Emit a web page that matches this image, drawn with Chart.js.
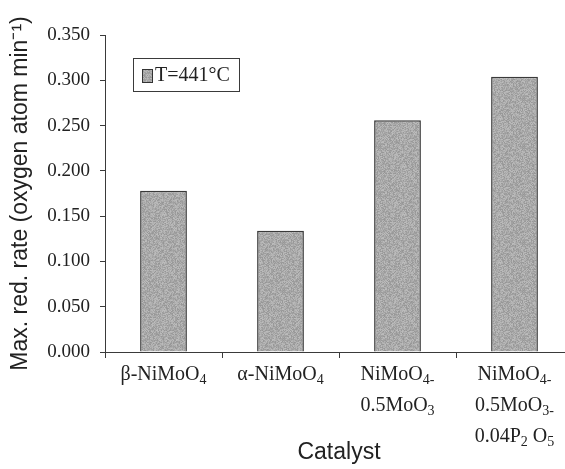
<!DOCTYPE html>
<html lang="en">
<head>
  <meta charset="UTF-8" />
  <title>Max. red. rate vs catalyst</title>
  <script src="https://cdn.jsdelivr.net/npm/chart.js"></script>
  <style>
    html, body {
      margin: 0;
      padding: 0;
      background: #fff;
      overflow: hidden;
    }
    #wrap {
      width: 575px;
      height: 469px;
    }
  </style>
</head>
<body>
  <div id="wrap"><canvas id="chart" width="575" height="469"></canvas></div>

  <script>
    // data
    const catalysts = [
      'β-NiMoO₄',
      'α-NiMoO₄',
      ['NiMoO₄₋', '0.5MoO₃'],
      ['NiMoO₄₋', '0.5MoO₃₋', '0.04P₂ O₅']
    ];
    const maxRedRate = [0.178, 0.134, 0.256, 0.304];
    const seriesLabel = 'T=441°C';
    const yTicks = [0, 0.05, 0.1, 0.15, 0.2, 0.25, 0.3, 0.35];

    const serif = "'Liberation Serif', 'Times New Roman', serif";
    const sans = "'Liberation Sans', Arial, sans-serif";
    const axisColor = '#3a3a3a';
    const textColor = '#222';

    // stippled grey fill, like the printed bars
    function stipple() {
      const c = document.createElement('canvas');
      c.width = 48; c.height = 48;
      const g = c.getContext('2d');
      const img = g.createImageData(48, 48);
      for (let i = 0; i < 48 * 48; i++) {
        let h = (i * 2654435761) >>> 0;
        h = ((h ^ (h >>> 15)) * 2246822519) >>> 0;
        const v = 170 + ((h >>> 8) % 40) - 20;
        img.data[i*4] = v; img.data[i*4+1] = v; img.data[i*4+2] = v; img.data[i*4+3] = 255;
      }
      g.putImageData(img, 0, 0);
      return g.createPattern(c, 'repeat');
    }
    const barFill = stipple();

    // text with chemical subscripts drawn smaller and lower
    const subs = { '₀':'0','₁':'1','₂':'2','₃':'3','₄':'4','₅':'5','₆':'6','₇':'7','₈':'8','₉':'9','₋':'-' };
    function drawRich(ctx, text, cx, base, size) {
      const parts = [];
      for (const ch of text) {
        const sub = ch in subs;
        const last = parts[parts.length - 1];
        if (last && last.sub === sub) last.t += sub ? subs[ch] : ch;
        else parts.push({ sub, t: sub ? subs[ch] : ch });
      }
      let w = 0;
      parts.forEach(p => {
        ctx.font = (p.sub ? Math.round(size * 0.72) : size) + 'px ' + serif;
        p.w = ctx.measureText(p.t).width;
        w += p.w;
      });
      let x = cx - w / 2;
      parts.forEach(p => {
        ctx.font = (p.sub ? Math.round(size * 0.72) : size) + 'px ' + serif;
        ctx.fillText(p.t, x, p.sub ? base + size * 0.22 : base);
        x += p.w;
      });
    }

    const extras = {
      id: 'extras',
      afterDraw(chart) {
        const ctx = chart.ctx;
        const ds = chart.data.datasets[0];
        const xs = chart.scales.x;
        ctx.save();
        ctx.fillStyle = textColor;
        ctx.textAlign = 'left';
        ctx.textBaseline = 'alphabetic';
        chart.data.labels.forEach((lab, i) => {
          const lines = Array.isArray(lab) ? lab : [lab];
          const cx = xs.getPixelForTick(i);
          lines.forEach((ln, j) => drawRich(ctx, ln, cx, 380 + j * 31, 20));
        });

        // legend box
        ctx.strokeStyle = axisColor;
        ctx.lineWidth = 1;
        ctx.strokeRect(133.5, 58.5, 106, 33);
        ctx.fillStyle = ds.backgroundColor;
        ctx.fillRect(142, 69, 11, 14);
        ctx.strokeStyle = '#333';
        ctx.strokeRect(142.5, 69.5, 10, 13);
        ctx.fillStyle = textColor;
        ctx.font = '20px ' + serif;
        ctx.textBaseline = 'middle';
        ctx.fillText(ds.label, 155, 76);
        ctx.restore();
      }
    };

    new Chart(document.getElementById('chart'), {
      type: 'bar',
      data: {
        labels: catalysts,
        datasets: [{
          label: seriesLabel,
          data: maxRedRate,
          backgroundColor: barFill,
          borderColor: '#3a3a3a',
          borderWidth: 1.5,
          categoryPercentage: 1,
          barPercentage: 0.4
        }]
      },
      options: {
        responsive: false,
        animation: false,
        layout: { padding: { top: 35, right: 2, left: 0, bottom: 0 } },
        plugins: {
          legend: { display: false },
          tooltip: { enabled: false }
        },
        scales: {
          x: {
            afterFit(s) { s.height = 117; },
            grid: { offset: true, drawOnChartArea: false, tickLength: 6, color: axisColor },
            border: { color: axisColor, width: 1 },
            ticks: { display: false },
            title: {
              display: true,
              text: 'Catalyst',
              color: textColor,
              padding: { top: 0, bottom: 3 },
              font: { family: sans, size: 23 }
            }
          },
          y: {
            min: 0,
            max: 0.35,
            afterFit(s) { s.width = 105; },
            afterBuildTicks(s) { s.ticks = yTicks.map(v => ({ value: v })); },
            grid: { drawOnChartArea: false, tickLength: 5, color: axisColor },
            border: { color: axisColor, width: 1 },
            ticks: {
              color: textColor,
              padding: 10,
              callback: v => v.toFixed(3),
              font: { family: serif, size: 19 }
            },
            title: {
              display: true,
              text: 'Max. red. rate (oxygen atom min⁻¹)',
              color: textColor,
              padding: { top: 7, bottom: 0 },
              font: { family: sans, size: 23 }
            }
          }
        }
      },
      plugins: [extras]
    });
  </script>
</body>
</html>
